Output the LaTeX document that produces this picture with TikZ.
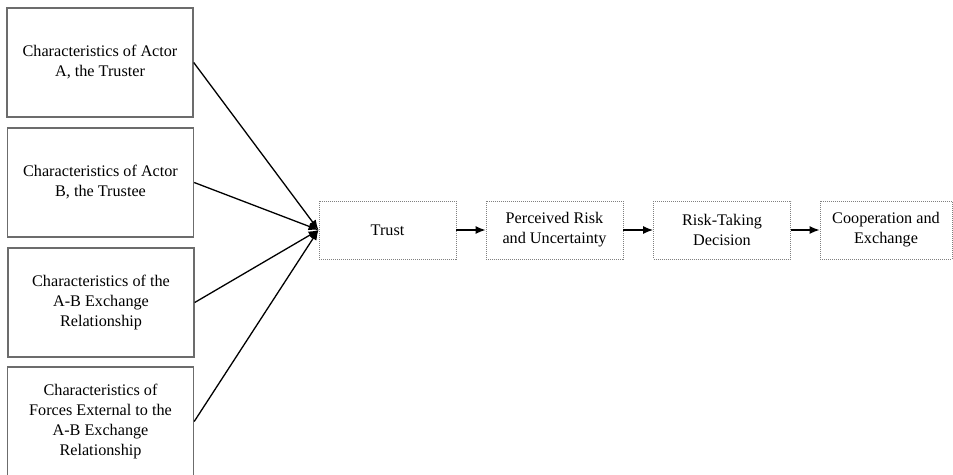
\documentclass[tikz,border=0pt]{standalone}
\usepackage{fontspec}
\setmainfont{Liberation Serif}
\usetikzlibrary{arrows.meta,positioning}

\begin{document}
\begin{tikzpicture}[
         x=1pt,y=-1pt,
         font=\fontsize{16.2}{20}\selectfont,
         factor/.style={draw=gray!85!black,line width=1.4pt,minimum width=186pt,
           minimum height=109pt,align=center,inner sep=0pt},
         stage/.style={draw=gray,line width=.9pt,dash pattern=on 1pt off 1pt,
           minimum width=137pt,minimum height=58pt,align=center,inner sep=0pt},
         tip/.style={-{Latex[length=10pt,width=8pt]},line width=1.3pt,black}
      ]

	      \useasboundingbox (0,0) rectangle (953,474);

	      % antecedents
	      \node[factor] (actorA) at (100,62.5) {Characteristics of Actor\\A, the Truster};
	      \node[factor] (actorB) at (100.5,182.5) {Characteristics of Actor\\B, the Trustee};
	      \node[factor] (relation) at (101,302.5) {Characteristics of the\\A-B Exchange\\Relationship};
	      \node[factor] (external) at (100.5,421.5) {Characteristics of\\Forces External to the\\A-B Exchange\\Relationship};

	      % chain
	      \node[stage] (trust) at (387.5,230) {Trust};
	      \node[stage] (risk) at (554.5,230) {Perceived Risk\\and Uncertainty};
	      \node[stage] (decision) at (722,230) {Risk-Taking\\Decision};
	      \node[stage,minimum width=132pt] (coop) at (886,230) {Cooperation and\\Exchange};

	      \draw[tip] (actorA.east) -- (trust.west);
	      \draw[tip] (actorB.east) -- (trust.west);
	      \draw[tip] (relation.east) -- (trust.west);
	      \draw[tip] (external.east) -- (trust.west);

	      \draw[tip] (trust) -- (risk);
	      \draw[tip] (risk) -- (decision);
	      \draw[tip] (decision) -- (coop);

	\end{tikzpicture}
\end{document}
